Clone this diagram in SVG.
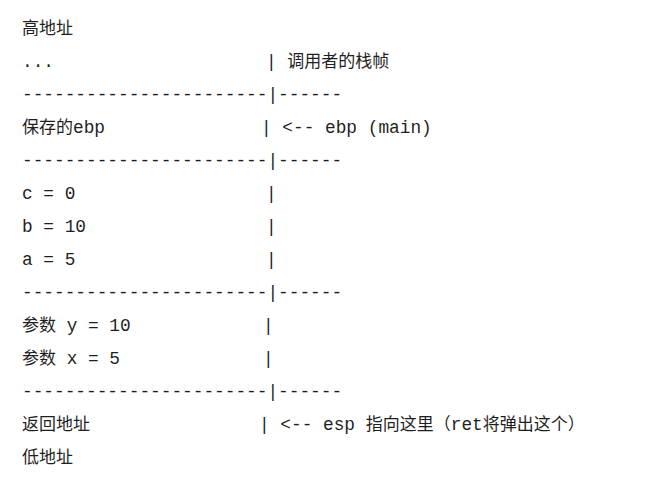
<svg xmlns="http://www.w3.org/2000/svg" width="645" height="488" viewBox="0 0 645 488">
<style>
text{font-family:"Liberation Mono","Noto Sans CJK SC",monospace;font-size:17.8px;fill:#1f1f1f;white-space:pre}
.c{font-family:"Noto Sans CJK SC",sans-serif;font-size:17px}
</style>
<rect width="645" height="488" fill="#fff"/>
<g id="stack" xml:space="preserve">
<text class="c" x="22" y="34">高地址</text>
<text x="22" y="67">...</text><text x="266" y="67">| <tspan class="c">调用者的栈帧</tspan></text>
<text x="22" y="100">-----------------------|------</text>
<text x="22" y="133"><tspan class="c">保存的</tspan>ebp</text><text x="261" y="133">| &lt;-- ebp (main)</text>
<text x="22" y="166">-----------------------|------</text>
<text x="22" y="199">c = 0</text><text x="266" y="199">|</text>
<text x="22" y="232">b = 10</text><text x="266" y="232">|</text>
<text x="22" y="265">a = 5</text><text x="266" y="265">|</text>
<text x="22" y="298">-----------------------|------</text>
<text x="22" y="331"><tspan class="c">参数</tspan> y = 10</text><text x="263" y="331">|</text>
<text x="22" y="364"><tspan class="c">参数</tspan> x = 5</text><text x="263" y="364">|</text>
<text x="22" y="397">-----------------------|------</text>
<text class="c" x="22" y="430">返回地址</text><text x="259" y="430">| &lt;-- esp <tspan class="c">指向这里（</tspan>ret<tspan class="c">将弹出这个）</tspan></text>
<text class="c" x="22" y="463">低地址</text>
</g>
</svg>
